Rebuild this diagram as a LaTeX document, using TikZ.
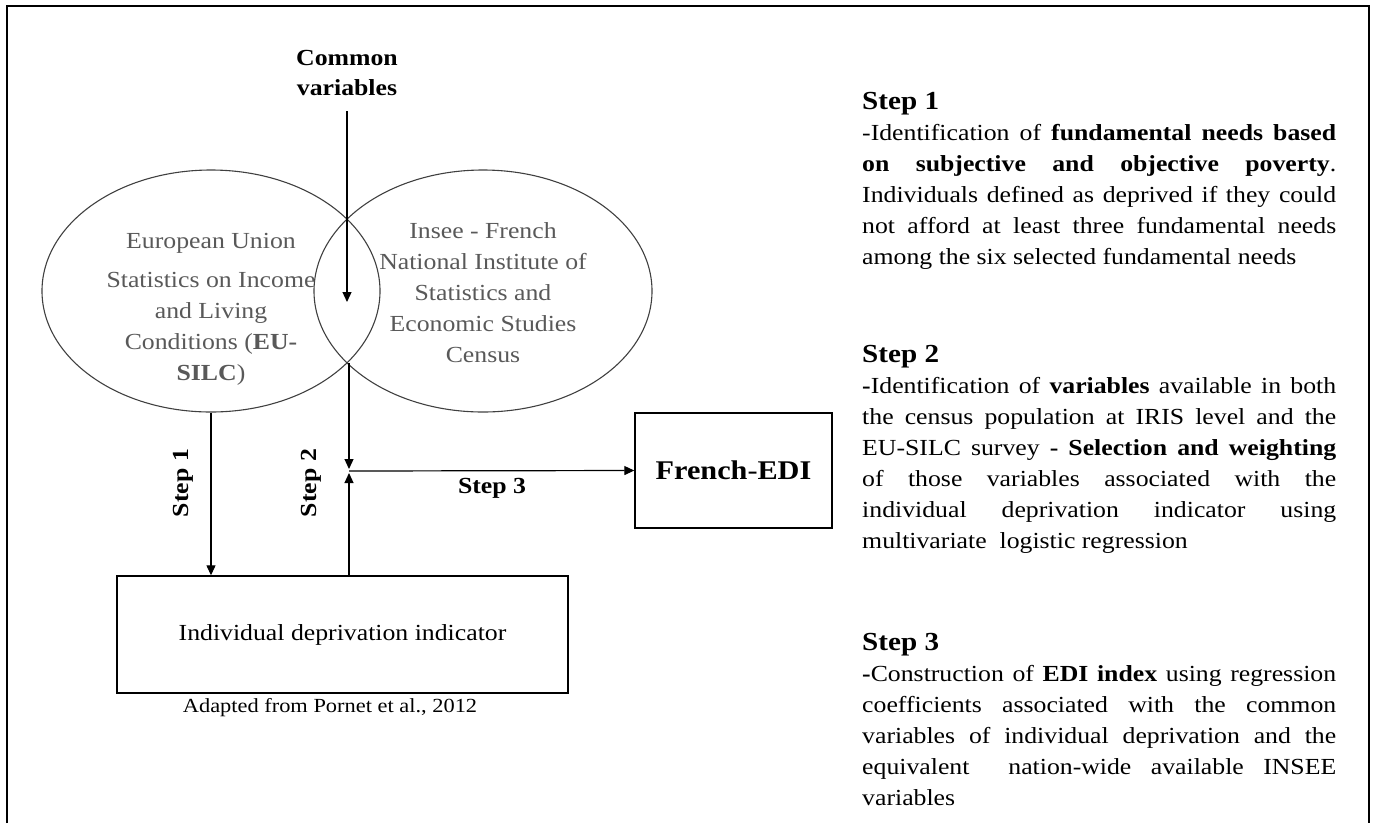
\documentclass[tikz,border=0pt]{standalone}
\usepackage{fontspec}
\setmainfont{Liberation Serif}[FakeStretch=1.12]
\usetikzlibrary{shapes.geometric,arrows.meta}
\hyphenpenalty=10000
\exhyphenpenalty=10000
\tikzstyle{source}=[ellipse,draw=black!75,line width=1.1pt,minimum width=338pt,minimum height=242pt,inner sep=0pt]
\tikzstyle{srctext}=[align=center,text=black!65,font=\fontsize{23}{31}\selectfont]
\tikzstyle{box}=[draw,line width=1.4pt,inner sep=0pt]
\tikzstyle{edge} = [draw,line width=1.2pt,-{Triangle[length=10pt,width=9pt]}]
\tikzstyle{steplabel} = [font=\fontsize{23}{28}\selectfont\bfseries]
\tikzstyle{note} = [text width=474pt,align=justify,inner sep=0pt,anchor=north west,font=\fontsize{23}{31}\selectfont]

\begin{document}
\begin{tikzpicture}[x=1pt,y=-1pt]
        \useasboundingbox (0,0) rectangle (1375,823);
        \draw[line width=2pt] (7,823) -- (7,6) -- (1369,6) -- (1369,823);
        % the two sources
        \node[source] (euro) at (211,291) {};
        \node[source] (insee) at (483,291) {};
        \node[srctext] (eurotext) at (211,309) {European Union\\[8pt]Statistics on Income\\and Living\\Conditions (\textbf{EU-}\\\textbf{SILC})};
        \node[srctext] (inseetext) at (483,293) {Insee - French\\National Institute of\\Statistics and\\Economic Studies\\Census};
        \node[font=\fontsize{23}{30}\selectfont\bfseries,align=center] (common) at (347,73) {Common\\variables};
        \coordinate (lens) at (347,302);
        \coordinate (lensbot) at (349,363);
        \coordinate (join) at (349,471);
        % boxes
        \node[box,minimum width=451pt,minimum height=117pt,font=\fontsize{23}{28}\selectfont] (idi) at (342.5,634.5) {Individual deprivation indicator};
        \node[box,minimum width=197pt,minimum height=115pt,font=\fontsize{27}{32}\selectfont] (edi) at (733.5,470.5) {\textbf{French}-\textbf{EDI}};
        \node[font=\fontsize{20}{24}\selectfont] (credit) at (330,708) {Adapted from Pornet et al., 2012};
        % steps
        \node[steplabel,rotate=90] (s1) at (183,483) {Step 1};
        \node[steplabel,rotate=90] (s2) at (311,483) {Step 2};
        \node[steplabel] (s3) at (492,488) {Step 3};
        \path[edge,shorten <=12pt] (common.south) -- (lens);
        \path[edge] (euro.south) -- (euro.south |- idi.north);
        \path[edge,shorten >=2pt] (lensbot) -- (join);
        \path[edge,shorten >=2pt] (idi.north -| join) -- (join);
        \path[edge] (join) -- (edi.west);
        % explanations
        \node[note] (note1) at (862,92) {{\fontsize{26}{31}\selectfont\bfseries Step 1}\\
          -Identification of \textbf{fundamental needs based}\linebreak
          \textbf{on subjective and objective poverty}.\linebreak
          Individuals defined as deprived if they could\linebreak
          not afford at least three fundamental needs\linebreak
          among the six selected fundamental needs};
        \node[note] (note2) at (862,345) {{\fontsize{26}{31}\selectfont\bfseries Step 2}\\
          \textbf{-}Identification of \textbf{variables} available in both\linebreak
          the census population at IRIS level and the\linebreak
          EU-SILC survey \textbf{- Selection and weighting}\linebreak
          of those variables associated with the\linebreak
          individual deprivation indicator using\linebreak
          multivariate\ \ logistic regression};
        \node[note] (note3) at (862,633) {{\fontsize{26}{31}\selectfont\bfseries Step 3}\\
          \textbf{-}Construction of \textbf{EDI index} using regression\linebreak
          coefficients associated with the common\linebreak
          variables of individual deprivation and the\linebreak
          equivalent\ \ nation-wide available INSEE\linebreak
          variables};
    \end{tikzpicture}
\end{document}
